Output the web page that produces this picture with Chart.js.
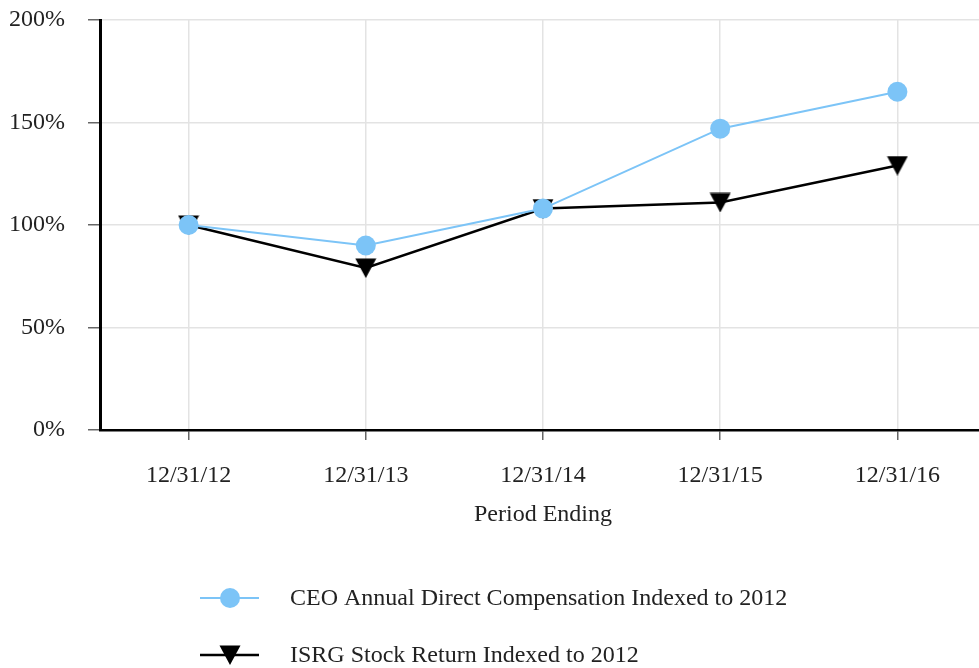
<!DOCTYPE html>
<html>
<head>
<meta charset="utf-8">
<script src="https://cdn.jsdelivr.net/npm/chart.js@4/dist/chart.umd.min.js"></script>
<style>
  html, body { margin: 0; padding: 0; background: #fff; overflow: hidden; }
  canvas { display: block; }
</style>
</head>
<body>
<canvas id="chart" width="986" height="668"></canvas>
<script>
const periods = ['12/31/12', '12/31/13', '12/31/14', '12/31/15', '12/31/16'];
const ceoComp = [100, 90, 108, 147, 165];
const isrgReturn = [100, 79, 108, 111, 129];
const yTicks = [0, 50, 100, 150, 200];

const COLORS = {
  blue: '#7cc4f7',
  black: '#000000',
  grid: '#e3e3e3',
  tick: '#666666',
  text: '#222222',
};
const FONT = "'Liberation Serif', 'Times New Roman', serif";

// downward triangle marker, centred on its bounding box
function makeTriangle() {
  const c = document.createElement('canvas');
  c.width = 22; c.height = 20;
  const g = c.getContext('2d');
  g.fillStyle = COLORS.black;
  g.beginPath();
  g.moveTo(0.5, 0.5);
  g.lineTo(21.5, 0.5);
  g.lineTo(11, 20);
  g.closePath();
  g.fill();
  return c;
}
const triangle = makeTriangle();

// legend drawn under the axis title, left aligned as in the source
const legendPlugin = {
  id: 'sideLegend',
  afterDraw(chart) {
    const ctx = chart.ctx;
    const rows = [598, 655];
    ctx.save();
    chart.data.datasets.forEach((ds, i) => {
      const y = rows[i];
      ctx.strokeStyle = ds.borderColor;
      ctx.lineWidth = ds.borderWidth;
      ctx.beginPath();
      ctx.moveTo(200, y);
      ctx.lineTo(259, y);
      ctx.stroke();
      ctx.fillStyle = ds.pointBackgroundColor;
      ctx.strokeStyle = ds.pointBackgroundColor;
      Chart.helpers.drawPoint(ctx, { pointStyle: ds.pointStyle, radius: ds.pointRadius, rotation: 0, borderWidth: 0 }, 230, y);
      ctx.fillStyle = COLORS.text;
      ctx.font = `24px ${FONT}`;
      ctx.textBaseline = 'middle';
      ctx.textAlign = 'left';
      ctx.fillText(ds.label, 290, y + 1);
    });
    ctx.restore();
  },
};

new Chart(document.getElementById('chart'), {
  type: 'line',
  data: {
    labels: periods,
    datasets: [
      {
        label: 'CEO Annual Direct Compensation Indexed to 2012',
        data: ceoComp,
        borderColor: COLORS.blue,
        backgroundColor: COLORS.blue,
        pointBackgroundColor: COLORS.blue,
        pointBorderWidth: 0,
        pointRadius: 10,
        pointStyle: 'circle',
        borderWidth: 2,
        tension: 0,
      },
      {
        label: 'ISRG Stock Return Indexed to 2012',
        data: isrgReturn,
        borderColor: COLORS.black,
        backgroundColor: COLORS.black,
        pointBackgroundColor: COLORS.black,
        pointBorderWidth: 0,
        pointRadius: 10,
        pointStyle: triangle,
        borderWidth: 2.5,
        tension: 0,
      },
    ],
  },
  options: {
    responsive: false,
    animation: false,
    layout: { autoPadding: false, padding: { top: 0, right: 0, left: 0, bottom: 139 } },
    plugins: {
      legend: { display: false },
      tooltip: { enabled: false },
    },
    scales: {
      x: {
        offset: true,
        afterFit: (s) => { s.height = 99; s.paddingLeft = 0; s.paddingRight = 0; },
        grid: { color: COLORS.grid, lineWidth: 1.5, offset: false, tickColor: COLORS.tick, tickLength: 10, tickWidth: 1.5 },
        border: { color: COLORS.black, width: 2.5 },
        ticks: { color: COLORS.text, font: { family: FONT, size: 24 }, padding: 21, maxRotation: 0 },
        title: { display: true, text: 'Period Ending', color: COLORS.text, font: { family: FONT, size: 24 }, padding: { top: 10, bottom: 0 } },
      },
      y: {
        min: 0,
        max: 200,
        afterBuildTicks: (s) => { s.ticks = yTicks.map(v => ({ value: v })); },
        afterFit: (s) => { s.width = 100; s.paddingTop = 20; s.paddingBottom = 0; },
        grid: { color: COLORS.grid, lineWidth: 1.5, tickColor: COLORS.tick, tickLength: 12, tickWidth: 1.5 },
        border: { color: COLORS.black, width: 3 },
        ticks: { color: COLORS.text, font: { family: FONT, size: 24 }, padding: 23, callback: (v) => v + '%' },
      },
    },
  },
  plugins: [legendPlugin],
});
</script>
</body>
</html>
